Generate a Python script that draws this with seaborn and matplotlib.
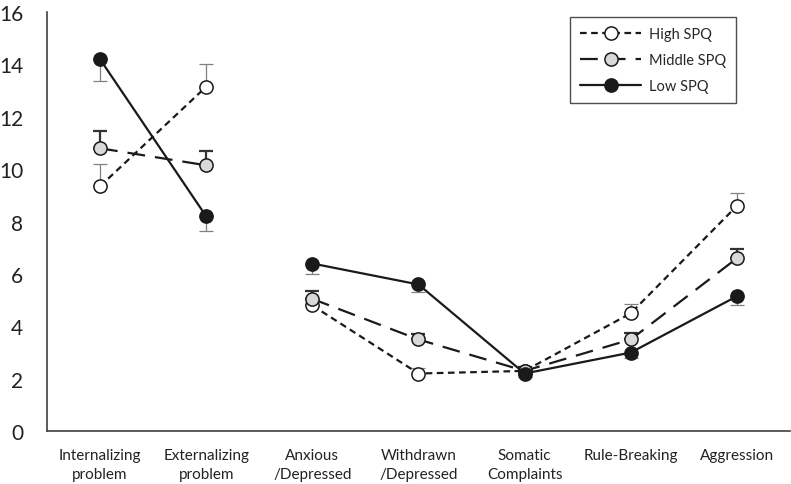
import matplotlib
matplotlib.use("Agg")
import matplotlib.pyplot as plt
import seaborn as sns
import numpy as np
import pandas as pd

categories = ["Internalizing\nproblem", "Externalizing\nproblem", "Anxious\n/Depressed",
              "Withdrawn\n/Depressed", "Somatic\nComplaints", "Rule-Breaking", "Aggression"]
high_spq = [9.35, 13.15, 4.8, 2.2, 2.3, 4.5, 8.6]
high_err = [0.85, 0.85, 0.2, 0.2, 0.2, 0.35, 0.5]
mid_spq = [10.8, 10.15, 5.05, 3.5, 2.3, 3.5, 6.6]
mid_err = [0.65, 0.55, 0.3, 0.2, 0.15, 0.25, 0.35]
low_spq = [14.2, 8.2, 6.4, 5.6, 2.2, 3.0, 5.15]
low_err = [0.85, 0.55, 0.4, 0.3, 0.15, 0.2, 0.35]
y_ticks = [0, 2, 4, 6, 8, 10, 12, 14, 16]

sns.set_style("white")
plt.rcParams['font.family'] = ['Lato', 'DejaVu Sans']

fig = plt.figure(figsize=(7.91, 4.85), dpi=100)
ax = fig.add_axes([0.0594, 0.109, 0.9393, 0.864])

pos = np.arange(len(categories))
groups = [slice(0, 2), slice(2, 7)]

series = [
    ("High SPQ", high_spq, high_err, "white", (0, (3, 2)), "up", "#808080", 0.9),
    ("Middle SPQ", mid_spq, mid_err, "#d9d9d9", (0, (8, 4.5)), "up", "#333333", 1.6),
    ("Low SPQ", low_spq, low_err, "#1a1a1a", "-", "down", "#808080", 0.9),
]

for name, vals, errs, fc, ls, direction, ecol, elw in series:
    vals = np.array(vals)
    errs = np.array(errs)
    zero = np.zeros_like(errs)
    yerr = [zero, errs] if direction == "up" else [errs, zero]
    ax.errorbar(pos, vals, yerr=yerr, fmt="none", ecolor=ecol, elinewidth=elw,
                capsize=5, capthick=elw, zorder=2)
    for gi, g in enumerate(groups):
        df = pd.DataFrame({"x": pos[g], "y": vals[g]})
        sns.lineplot(data=df, x="x", y="y", ax=ax, color="#1a1a1a", linewidth=1.6,
                     linestyle=ls, marker="o", markersize=9.5, markerfacecolor=fc,
                     markeredgecolor="#1a1a1a", markeredgewidth=1.1,
                     label=name if gi == 0 else None, zorder=3)

ax.set_xlim(-0.5, 6.5)
ax.set_ylim(0, 16)
ax.set_yticks(y_ticks)
ax.set_yticklabels([str(t) for t in y_ticks])
ax.set_xticks(pos)
ax.set_xticklabels(categories, va="top", ha="center", linespacing=1.45)
ax.set_xticks(np.arange(-0.5, 7, 1), minor=True)
ax.tick_params(axis="x", which="major", length=0, pad=12, labelsize=11, colors="#222222")
ax.tick_params(axis="x", which="minor", direction="in", length=5, width=1, color="#404040")
ax.tick_params(axis="y", direction="in", length=6, width=1, color="#404040",
               pad=17, labelsize=15, labelcolor="#222222")
ax.set_xlabel("")
ax.set_ylabel("")

for s in ["top", "right"]:
    ax.spines[s].set_visible(False)
for s in ["left", "bottom"]:
    ax.spines[s].set_color("#404040")
    ax.spines[s].set_linewidth(1.2)

leg = ax.legend(loc="upper right", bbox_to_anchor=(0.937, 1.005), frameon=True,
                fancybox=False, edgecolor="#222222", fontsize=10.5, handlelength=4.2,
                borderpad=0.7, labelspacing=0.8, handletextpad=0.5)
leg.get_frame().set_linewidth(1.0)

fig.savefig("out.png", dpi=100)
